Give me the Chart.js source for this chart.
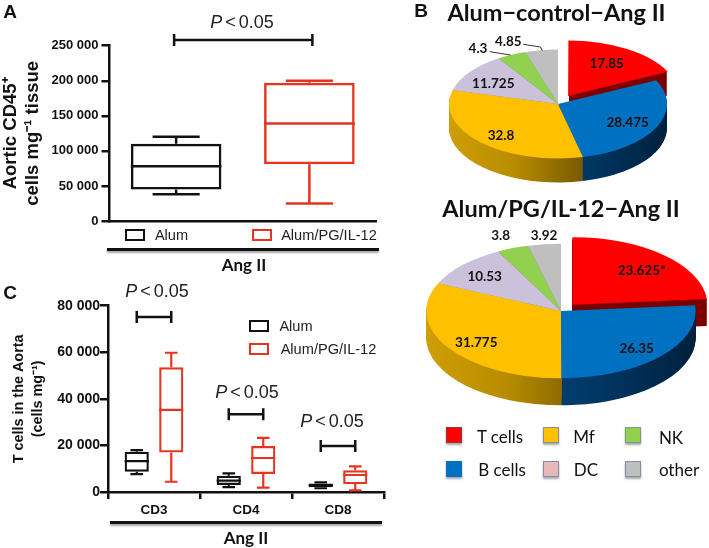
<!DOCTYPE html>
<html>
<head>
<meta charset="utf-8">
<script src="https://cdn.jsdelivr.net/npm/chart.js@4"></script>
<style>
body { margin: 0; background: #fff; width: 709px; height: 548px; overflow: hidden; position: relative; font-family: "Liberation Sans", sans-serif; }
canvas { position: absolute; }
.t { position: absolute; transform: translate(-50%, -50%); white-space: nowrap; color: #111; }
.letter { font: bold 19px "Liberation Sans"; }
.p { font: 18px "Liberation Sans"; color: #222; word-spacing: -2px; }
.leg { font: 14.6px "Liberation Sans"; color: #222; }
.ang { font: bold 17px Lato; }
.title { font: bold 23.5px Lato; }
.val { font: bold 13.5px Lato; }
.pleg { font: 17px Lato; }
.rule { position: absolute; height: 3px; background: #111; box-shadow: 0 2px 2px rgba(0,0,0,.35); }
.sw { position: absolute; box-sizing: border-box; background: #fff; border: 2.5px solid #111; }
.psw { position: absolute; width: 16px; height: 16px; box-sizing: border-box; box-shadow: 0 2px 2px rgba(0,0,0,.35); }
</style>
</head>
<body>
<canvas id="chartA" width="400" height="280" style="left:0;top:0"></canvas>
<canvas id="chartC" width="400" height="273" style="left:0;top:275px"></canvas>
<canvas id="pie1" width="300" height="180" style="left:407.5px;top:14px"></canvas>
<canvas id="pie2" width="296" height="200" style="left:413px;top:211px"></canvas>
<div class="rule" style="left:107px;top:248px;width:272px"></div>
<div class="rule" style="left:110px;top:521px;width:272px"></div>
<div class="sw" style="left:125px;top:229px;width:20px;height:12px"></div>
<div class="sw" style="left:252px;top:229px;width:20px;height:12px;border-color:#e63420"></div>
<div class="sw" style="left:249px;top:320px;width:20px;height:12px"></div>
<div class="sw" style="left:249px;top:343px;width:20px;height:12px;border-color:#e63420"></div>
<script>
// panel A, aortic CD45+ cells
const groupsA = ["Alum", "Alum/PG/IL-12"];
const loA = [38000, 25000];
const q1A = [45000, 81000];
const medA = [78000, 139000];
const q3A = [110000, 197000];
const hiA = [120000, 200000];
const sigA = [258000];

// panel C, T cells in the aorta
const groupsC = ["CD3", "CD4", "CD8"];
const alumLo = [7700, 2100, 1600];
const alumQ1 = [8700, 3000, 2000];
const alumMed = [13300, 4900, 2900];
const alumQ3 = [17300, 7000, 3600];
const alumHi = [18000, 8000, 4100];
const il12Lo = [4400, 1900, 700];
const il12Q1 = [17000, 7700, 3400];
const il12Med = [35300, 14600, 7300];
const il12Q3 = [53600, 19700, 9300];
const il12Hi = [59800, 23200, 11000];
const sigC = [75150, 33400, 19750];

// panel B, pies
const cellTypes = ["T cells", "B cells", "Mf", "DC", "NK", "other"];
const controlShare = [17.85, 28.475, 32.8, 11.725, 4.3, 4.85];
const il12Share = [23.625, 26.35, 31.775, 10.53, 3.8, 3.92];

const BLACK = "#111111";
const RED = "#e63420";
const sliceColors = ["#ff0000", "#0070c0", "#ffc000", "#ccc1da", "#92d050", "#bfbfbf"];

Chart.defaults.font.family = '"Liberation Sans"';
Chart.defaults.color = BLACK;

function addText(x, y, html, cls) {
	const el = document.createElement("div");
	el.className = "t " + cls;
	el.style.left = x + "px";
	el.style.top = y + "px";
	el.innerHTML = html;
	document.body.appendChild(el);
}

function spaced(v) {
	return String(v).replace(/\B(?=(\d{3})+$)/g, " ");
}

// whiskers, medians and the significance brackets on top of the floating bars
const boxPlugin = {
	id: "boxes",
	afterDatasetsDraw(chart, args, opts) {
		const ctx = chart.ctx;
		const y = chart.scales.y;
		ctx.save();
		ctx.lineCap = "butt";
		chart.data.datasets.forEach((ds, d) => {
			const meta = chart.getDatasetMeta(d);
			meta.data.forEach((bar, i) => {
				const color = Array.isArray(ds.borderColor) ? ds.borderColor[i] : ds.borderColor;
				const half = bar.width / 2;
				const cap = bar.width * 0.26;
				ctx.strokeStyle = color;
				ctx.lineWidth = opts.lineWidth;
				ctx.beginPath();
				ctx.moveTo(bar.x - half, y.getPixelForValue(ds.med[i]));
				ctx.lineTo(bar.x + half, y.getPixelForValue(ds.med[i]));
				ctx.moveTo(bar.x, y.getPixelForValue(ds.q3[i]));
				ctx.lineTo(bar.x, y.getPixelForValue(ds.hi[i]));
				ctx.moveTo(bar.x - cap, y.getPixelForValue(ds.hi[i]));
				ctx.lineTo(bar.x + cap, y.getPixelForValue(ds.hi[i]));
				ctx.moveTo(bar.x, y.getPixelForValue(ds.q1[i]));
				ctx.lineTo(bar.x, y.getPixelForValue(ds.lo[i]));
				ctx.moveTo(bar.x - cap, y.getPixelForValue(ds.lo[i]));
				ctx.lineTo(bar.x + cap, y.getPixelForValue(ds.lo[i]));
				ctx.stroke();
			});
		});
		ctx.strokeStyle = BLACK;
		ctx.lineWidth = 2.5;
		opts.sig.forEach((val, i) => {
			const ends = opts.ends(chart, i);
			const py = y.getPixelForValue(val);
			ctx.beginPath();
			ctx.moveTo(ends[0], py);
			ctx.lineTo(ends[1], py);
			ctx.moveTo(ends[0], py - 6);
			ctx.lineTo(ends[0], py + 6);
			ctx.moveTo(ends[1], py - 6);
			ctx.lineTo(ends[1], py + 6);
			ctx.stroke();
		});
		ctx.restore();
	},
};

function yAxis(max, step, width, tickSize, tickPad, title, titleFont, titlePad) {
	return {
		min: 0,
		max: max,
		afterFit(s) { s.width = width; },
		border: { color: BLACK, width: 2.5 },
		grid: { drawOnChartArea: false, color: BLACK, lineWidth: 2.5, tickLength: 8 },
		ticks: { stepSize: step, padding: tickPad, font: { size: tickSize, weight: "bold" }, color: BLACK, callback: spaced },
		title: { display: true, text: title, font: titleFont, padding: titlePad, color: BLACK },
	};
}

new Chart(document.getElementById("chartA"), {
	type: "bar",
	data: {
		labels: groupsA,
		datasets: [{
			data: q1A.map((v, i) => [v, q3A[i]]),
			lo: loA, q1: q1A, med: medA, q3: q3A, hi: hiA,
			backgroundColor: "transparent",
			borderColor: [BLACK, RED],
			borderWidth: 2.5,
			borderSkipped: false,
			barPercentage: 0.68,
			categoryPercentage: 1,
		}],
	},
	options: {
		responsive: false,
		animation: false,
		events: [],
		layout: { padding: { top: 45.7, right: 24, bottom: 59, left: 0 } },
		plugins: {
			legend: { display: false },
			tooltip: { enabled: false },
			boxes: {
				lineWidth: 2.5,
				sig: sigA,
				ends(chart) {
					const bars = chart.getDatasetMeta(0).data;
					return [bars[0].x - 2, bars[1].x + 3];
				},
			},
		},
		scales: {
			x: {
				afterFit(s) { s.height = 0; },
				border: { color: BLACK, width: 2.5 },
				grid: { display: false },
				ticks: { display: false },
			},
			y: yAxis(250000, 50000, 109.5, 13, 3, ["Aortic CD45⁺", "cells mg⁻¹ tissue"], { size: 18.5, weight: "bold", lineHeight: 1.19 }, 0),
		},
	},
	plugins: [boxPlugin],
});

new Chart(document.getElementById("chartC"), {
	type: "bar",
	data: {
		labels: groupsC,
		datasets: [
			{
				data: alumQ1.map((v, i) => [v, alumQ3[i]]),
				lo: alumLo, q1: alumQ1, med: alumMed, q3: alumQ3, hi: alumHi,
				backgroundColor: "transparent",
				borderColor: BLACK,
				borderWidth: 2.2,
				borderSkipped: false,
				barPercentage: 0.7,
				categoryPercentage: 0.75,
			},
			{
				data: il12Q1.map((v, i) => [v, il12Q3[i]]),
				lo: il12Lo, q1: il12Q1, med: il12Med, q3: il12Q3, hi: il12Hi,
				backgroundColor: "transparent",
				borderColor: RED,
				borderWidth: 2.2,
				borderSkipped: false,
				barPercentage: 0.7,
				categoryPercentage: 0.75,
			},
		],
	},
	options: {
		responsive: false,
		animation: false,
		events: [],
		layout: { padding: { top: 30.7, right: 16, bottom: 26, left: 0 } },
		plugins: {
			legend: { display: false },
			tooltip: { enabled: false },
			boxes: {
				lineWidth: 2.2,
				sig: sigC,
				ends(chart, i) {
					return [chart.getDatasetMeta(0).data[i].x, chart.getDatasetMeta(1).data[i].x];
				},
			},
		},
		scales: {
			x: {
				afterFit(s) { s.height = 30; },
				border: { color: BLACK, width: 2.5 },
				grid: { drawOnChartArea: false, color: BLACK, lineWidth: 2.5, tickLength: 7 },
				ticks: { padding: 3, font: { size: 13.5, weight: "bold" }, color: BLACK },
			},
			y: yAxis(80000, 20000, 108, 14, 0, ["T cells in the Aorta", "(cells mg⁻¹)"], { size: 14.4, weight: "bold", lineHeight: 1.35 }, 9),
		},
	},
	plugins: [boxPlugin],
});

// squashes the pie into an ellipse and stacks shaded copies of each slice under it
const tiltPlugin = {
	id: "tilt",
	beforeDatasetsDraw(chart, args, opts) {
		const ctx = chart.ctx;
		const arcs = chart.getDatasetMeta(0).data;
		const cx = arcs[0].x;
		const cy = arcs[0].y;
		const r = arcs[0].outerRadius;
		ctx.save();
		ctx.translate(cx, cy);
		ctx.scale(1, opts.k);
		ctx.translate(-cx, -cy);
		arcs.forEach((arc, i) => {
			const mid = (arc.startAngle + arc.endAngle) / 2;
			const base = (arc.options.offset || 0) / 4;
			const shift = base * (2 - Math.sin(Math.min(Math.PI, arc.circumference)));
			const ox = Math.cos(mid) * shift;
			const oy = Math.sin(mid) * shift;
			const wall = opts.walls[i];
			const grad = ctx.createLinearGradient(cx - r, 0, cx + r, 0);
			wall.forEach(s => grad.addColorStop(s[0], s[1]));
			ctx.fillStyle = grad;
			for (let d = opts.depth; d >= 1; d--) {
				ctx.beginPath();
				ctx.moveTo(cx + ox, cy + oy + d / opts.k);
				ctx.arc(cx + ox, cy + oy + d / opts.k, r, arc.startAngle, arc.endAngle);
				ctx.closePath();
				ctx.fill();
			}
		});
	},
	afterDatasetsDraw(chart, args, opts) {
		const ctx = chart.ctx;
		ctx.restore();
		if (opts.leaders) {
			ctx.save();
			ctx.strokeStyle = "#333";
			ctx.lineWidth = 1;
			opts.leaders.forEach(pts => {
				ctx.beginPath();
				pts.forEach((p, i) => i ? ctx.lineTo(p[0], p[1]) : ctx.moveTo(p[0], p[1]));
				ctx.stroke();
			});
			ctx.restore();
		}
	},
};

const wallStops = [
	[[0, "#7a0000"], [1, "#7a0000"]],
	[[0, "#00406f"], [0.55, "#003c6c"], [1, "#00213d"]],
	[[0, "#cf9e05"], [0.3, "#b88c00"], [0.6, "#7a5c00"], [1, "#7a5c00"]],
	[[0, "#8a8395"], [1, "#8a8395"]],
	[[0, "#5f8a30"], [1, "#5f8a30"]],
	[[0, "#808080"], [1, "#808080"]],
];

function drawPie(id, values, radius, offset, depth, leaders) {
	new Chart(document.getElementById(id), {
		type: "pie",
		data: {
			labels: cellTypes,
			datasets: [{
				data: values,
				backgroundColor: sliceColors,
				borderWidth: 0,
				radius: radius,
				clip: false,
				offset: values.map((v, i) => (i === 0 ? offset : 0)),
			}],
		},
		options: {
			responsive: false,
			animation: false,
			events: [],
			plugins: {
				legend: { display: false },
				tooltip: { enabled: false },
				tilt: { k: 0.5, depth: depth, walls: wallStops, leaders: leaders },
			},
		},
		plugins: [tiltPlugin],
	});
}

// leader points are canvas coordinates of pie1
drawPie("pie1", controlShare, 109, 76, 24, [
	[[115.2, 30.3], [132.5, 33], [134.2, 36.7]],
	[[81.8, 37.7], [102.5, 41]],
]);
drawPie("pie2", il12Share, 134.7, 68, 27, null);

// free text around the charts
addText(10, 12, "A", "letter");
addText(421, 11, "B", "letter");
addText(10, 293, "C", "letter");
addText(242, 22, "<i>P</i> &lt; 0.05", "p");
addText(157, 291, "<i>P</i> &lt; 0.05", "p");
addText(247, 392, "<i>P</i> &lt; 0.05", "p");
addText(332, 421, "<i>P</i> &lt; 0.05", "p");
addText(171.5, 235, groupsA[0], "leg");
addText(329, 235, groupsA[1], "leg");
addText(296, 326, groupsA[0], "leg");
addText(328.5, 349, groupsA[1], "leg");
addText(244, 264, "Ang II", "ang");
addText(246, 537, "Ang II", "ang");
addText(556.5, 12, "Alum−control−Ang II", "title");
addText(561, 208, "Alum/PG/IL-12−Ang II", "title");

const pos1 = [[606.7, 62.7], [627.7, 122.3], [501, 135], [493.3, 82.7], [478, 48.3], [508.3, 40.7]];
const pos2 = [[641.7, 270], [636.7, 348], [476.3, 341.7], [484.7, 276], [500.7, 235], [544, 235]];
controlShare.forEach((v, i) => addText(pos1[i][0], pos1[i][1], String(v), "val"));
il12Share.forEach((v, i) => addText(pos2[i][0], pos2[i][1], v + (i === 0 ? "*" : ""), "val"));

// cell type legend, DC swatch is pinker than its slice in the original
const swatchFill = ["#ff0000", "#0070c0", "#ffc000", "#e6b9b8", "#92d050", "#bfbfbf"];
const swatchEdge = ["#a0303a", "#0070c0", "#8a8f99", "#7f8fa9", "#7f9a80", "#7f8fa9"];
const swatchXY = [[446, 427], [446, 461], [543, 427], [543, 461], [625, 427], [625, 461]];
const legendXY = [[500, 436], [502, 469], [584, 436], [586, 469], [671, 437], [679, 469]];
cellTypes.forEach((name, i) => {
	const sw = document.createElement("div");
	sw.className = "psw";
	sw.style.left = swatchXY[i][0] + "px";
	sw.style.top = swatchXY[i][1] + "px";
	sw.style.background = swatchFill[i];
	sw.style.border = "1px solid " + swatchEdge[i];
	document.body.appendChild(sw);
	addText(legendXY[i][0], legendXY[i][1], name, "pleg");
});
</script>
</body>
</html>
